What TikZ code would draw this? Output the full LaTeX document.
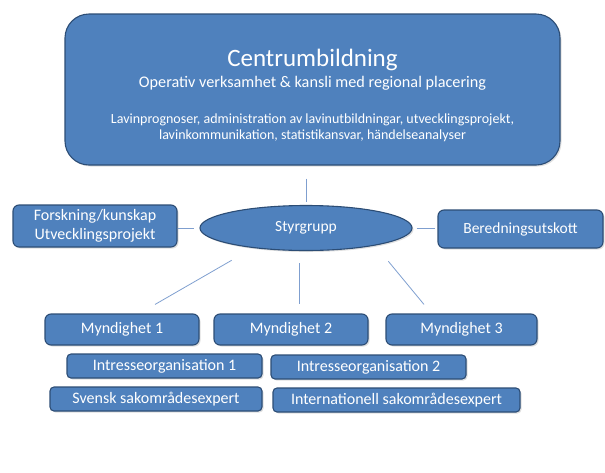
\documentclass[tikz,border=0pt]{standalone}
\usepackage{fontspec}
\setmainfont{Carlito}
\usetikzlibrary{shapes.geometric,shadows}
\definecolor{boxblue}{HTML}{4F81BD}
\definecolor{boxedge}{HTML}{2C4D75}
\definecolor{linkblue}{HTML}{7F9FCF}
\tikzset{
	box/.style={draw=boxedge,fill=boxblue,line width=1.1pt,rounded corners=6pt,text=white,
		drop shadow={opacity=0.25,shadow xshift=1.5pt,shadow yshift=-1.5pt},inner sep=0pt},
	conn/.style={draw=linkblue,line width=0.8pt}
}
\begin{document}
\begin{tikzpicture}[x=1pt,y=-1pt]
		\useasboundingbox (0,0) rectangle (605,472);
		\node[box,rounded corners=24pt,minimum width=495pt,minimum height=151pt,align=center,
			font=\fontsize{14}{16}\selectfont] (centrum) at (312.5,89.5)
			{\rule{0pt}{30pt}{\fontsize{25}{25}\selectfont Centrumbildning}\\[5pt]
			{\fontsize{16.2}{16}\selectfont Operativ verksamhet \& kansli med regional placering}\\[20pt]
			Lavinprognoser, administration av lavinutbildningar, utvecklingsprojekt,\\
			lavinkommunikation, statistikansvar, händelseanalyser};
		\node[box,ellipse,minimum width=212pt,minimum height=45pt,font=\fontsize{15.5}{17}\selectfont] (styr) at (306,228) {\raisebox{4pt}{Styrgrupp}};
		\node[box,minimum width=164pt,minimum height=42pt,align=center,font=\fontsize{16}{19}\selectfont] (forsk) at (95,226) {Forskning/kunskap\\Utvecklingsprojekt};
		\node[box,minimum width=165pt,minimum height=38pt,font=\fontsize{15.5}{17}\selectfont] (bered) at (520.5,229) {Beredningsutskott};
		\node[box,minimum width=154pt,minimum height=31pt,font=\fontsize{16}{18}\selectfont] (myn1) at (122,329.5) {Myndighet 1};
		\node[box,minimum width=154pt,minimum height=31pt,font=\fontsize{16}{18}\selectfont] (myn2) at (291,329.5) {Myndighet 2};
		\node[box,minimum width=151pt,minimum height=31pt,font=\fontsize{16}{18}\selectfont] (myn3) at (461.5,329.5) {Myndighet 3};
		\node[box,rounded corners=4pt,minimum width=195pt,minimum height=24pt,font=\fontsize{16}{18}\selectfont] (intr1) at (164.5,366) {Intresseorganisation 1};
		\node[box,rounded corners=4pt,minimum width=195pt,minimum height=24pt,font=\fontsize{16}{18}\selectfont] (intr2) at (368.5,367) {Intresseorganisation 2};
		\node[box,rounded corners=4pt,minimum width=212pt,minimum height=24pt,font=\fontsize{16}{18}\selectfont] (svensk) at (156,399) {Svensk sakområdesexpert};
		\node[box,rounded corners=4pt,minimum width=247pt,minimum height=24pt,font=\fontsize{16}{18}\selectfont] (intl) at (396.5,400) {Internationell sakområdesexpert};
		\draw[conn,shorten <=13pt,shorten >=3pt] (styr.north |- centrum.south) -- (styr.north);
		\draw[conn,shorten >=5pt] (forsk.east |- styr) -- (styr.west);
		\draw[conn,shorten <=4pt,shorten >=2pt] (styr.east) -- (bered.west |- styr);
		\draw[conn] ([xshift=1pt,yshift=-16pt]styr.south west) -- ([xshift=33pt,yshift=9pt]myn1.north);
		\draw[conn] ([xshift=-7pt,yshift=-12pt]styr.south) -- ([xshift=8pt,yshift=9pt]myn2.north);
		\draw[conn] ([xshift=7pt,yshift=-17pt]styr.south east) -- ([xshift=-37.5pt,yshift=9pt]myn3.north);
\end{tikzpicture}
\end{document}
